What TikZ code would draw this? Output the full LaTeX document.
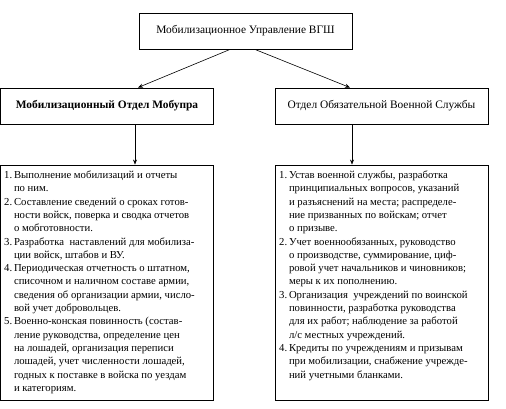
\documentclass[tikz,border=0pt]{standalone}
\usepackage{fontspec}
\setmainfont{Liberation Serif}
\usetikzlibrary{arrows.meta}
\tikzset{
  box/.style={draw=black, line width=0.9pt, inner sep=0pt, minimum width=213pt, minimum height=36pt, font=\fontsize{11.4}{13}\selectfont},
  bigbox/.style={draw=black, line width=0.9pt, inner sep=0pt, minimum width=213pt, minimum height=235pt},
  txt/.style={anchor=north west, inner sep=0pt, align=left, font=\fontsize{10.7}{13.3}\selectfont},
  conn/.style={draw=black, line width=0.6pt, -{Stealth[length=5pt,width=4pt]}}
}
\begin{document}
\begin{tikzpicture}[x=1pt,y=-1pt]
\useasboundingbox[fill=white] (0,0) rectangle (506,409);
\node[box] (top) at (245.5,31) {Мобилизационное Управление ВГШ};
\node[box, font=\fontsize{11.4}{13}\selectfont\bfseries] (lh) at (107,106) {Мобилизационный Отдел Мобупра};
\node[box] (rh) at (381.5,106) {Отдел Обязательной Военной Службы};
\node[bigbox] (lb) at (107,282.5) {};
\node[bigbox] (rb) at (382,282.5) {};
\node[txt] (lt) at (4,169) {\begin{tabular}{@{}l@{\,}l@{}}
1. & Выполнение мобилизаций и отчеты\\
   & по ним.\\
2. & Составление сведений о сроках готов-\\
   & ности войск, поверка и сводка отчетов\\
   & о мобготовности.\\
3. & Разработка \ наставлений для мобилиза-\\
   & ции войск, штабов и ВУ.\\
4. & Периодическая отчетность о штатном,\\
   & списочном и наличном составе армии,\\
   & сведения об организации армии, число-\\
   & вой учет добровольцев.\\
5. & Военно-конская повинность (состав-\\
   & ление руководства, определение цен\\
   & на лошадей, организация переписи\\
   & лошадей, учет численности лошадей,\\
   & годных к поставке в войска по уездам\\
   & и категориям.
\end{tabular}};
\node[txt] (rt) at (279,169) {\begin{tabular}{@{}l@{\,}l@{}}
1. & Устав военной службы, разработка\\
   & принципиальных вопросов, указаний\\
   & и разъяснений на места; распределе-\\
   & ние призванных по войскам; отчет\\
   & о призыве.\\
2. & Учет военнообязанных, руководство\\
   & о производстве, суммирование, циф-\\
   & ровой учет начальников и чиновников;\\
   & меры к их пополнению.\\
3. & Организация \ учреждений по воинской\\
   & повинности, разработка руководства\\
   & для их работ; наблюдение за работой\\
   & л/с местных учреждений.\\
4. & Кредиты по учреждениям и призывам\\
   & при мобилизации, снабжение учрежде-\\
   & ний учетными бланками.
\end{tabular}};
\draw[conn] ([xshift=-15.5pt]top.south) -- ([xshift=31pt]lh.north);
\draw[conn] ([xshift=9.5pt]top.south) -- ([xshift=-31.5pt]rh.north);
\draw[conn] ([xshift=28pt]lh.south) -- ([xshift=28pt]lb.north);
\draw[conn] ([xshift=-29.5pt]rh.south) -- ([xshift=-30pt]rb.north);
\end{tikzpicture}
\end{document}
